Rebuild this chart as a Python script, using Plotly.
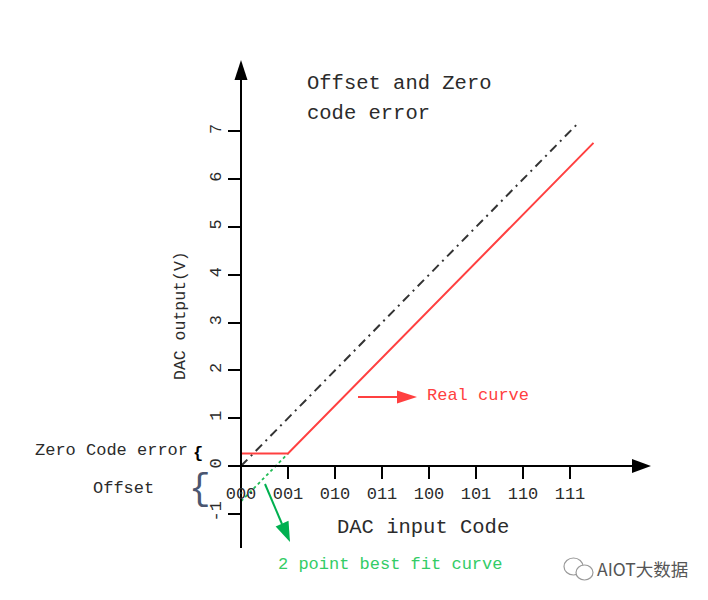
import plotly.graph_objects as go

# ---------------- data ----------------
codes = ["000", "001", "010", "011", "100", "101", "110", "111"]
code_vals = [0, 1, 2, 3, 4, 5, 6, 7]
volt_ticks = [-1, 0, 1, 2, 3, 4, 5, 6, 7]
volt_labels = ["-1", "0", "1", "2", "3", "4", "5", "6", "7"]

ideal_x = [0, 7.2]
ideal_y = [0, 7.2]
real_x = [0, 1, 7.5]
real_y = [0.26, 0.26, 6.76]
fit_x = [0, 1]
fit_y = [-0.74, 0.26]

# ---------------- layout helpers (pixel -> paper) ----------------
W, H = 708, 600
OFF = 8                # page body margin
X0, Y0 = 241, 466      # pixel position of origin
UX, UY = 47.0, 47.8    # pixels per code step / per volt


def PX(x):
    return (x - OFF) / W


def PY(y):
    return 1 - (y - OFF) / H


FONT = "Liberation Mono"
TXT = "#2b2b2b"
RED = "#ff4040"
GREEN = "#00b050"

fig = go.Figure()

fig.add_trace(go.Scatter(x=ideal_x, y=ideal_y, mode="lines",
                         line=dict(color="#333333", width=2, dash="9px,5px,2px,5px"),
                         hoverinfo="skip"))
fig.add_trace(go.Scatter(x=fit_x, y=fit_y, mode="lines",
                         line=dict(color="#22bb55", width=1.8, dash="dot"),
                         hoverinfo="skip"))
fig.add_trace(go.Scatter(x=real_x, y=real_y, mode="lines",
                         line=dict(color=RED, width=2),
                         hoverinfo="skip"))

shapes = []


def head(tx, ty, dx, dy, L, hw, color):
    n = (dx * dx + dy * dy) ** 0.5
    dx, dy = dx / n, dy / n
    bx, by = tx - L * dx, ty - L * dy
    nx, ny = -dy, dx
    pts = [(tx, ty), (bx + hw * nx, by + hw * ny), (bx - hw * nx, by - hw * ny)]
    path = "M " + " L ".join(f"{PX(a):.5f},{PY(b):.5f}" for a, b in pts) + " Z"
    shapes.append(dict(type="path", xref="paper", yref="paper", path=path,
                       fillcolor=color, line=dict(width=0), layer="above"))


def seg(x0, y0, x1, y1, color, width):
    shapes.append(dict(type="line", xref="paper", yref="paper",
                       x0=PX(x0), y0=PY(y0), x1=PX(x1), y1=PY(y1),
                       line=dict(color=color, width=width), layer="above"))


# axis arrowheads
head(651, 466, 1, 0, 19, 7, "black")
head(241, 60, 0, -1, 20, 6.5, "black")
# red pointer
seg(358, 397, 402, 397, RED, 2)
head(417, 397, 1, 0, 20, 6.5, RED)
# green pointer
seg(265, 484, 282, 524, GREEN, 2)
head(290, 542, 25, 58, 20, 7, GREEN)
# wechat-like icon
shapes.append(dict(type="circle", xref="paper", yref="paper",
                   x0=PX(564), x1=PX(583), y0=PY(575), y1=PY(558),
                   line=dict(color="#9a9a9a", width=1.2)))
shapes.append(dict(type="circle", xref="paper", yref="paper",
                   x0=PX(576), x1=PX(593), y0=PY(580), y1=PY(565),
                   line=dict(color="#9a9a9a", width=1.2), fillcolor="white"))

ann = []


def text(t, x, y, size, color=TXT, xanchor="center", angle=0, family=FONT):
    if xanchor == "left":
        x -= 2
    ann.append(dict(text=t, x=PX(x), y=PY(y), xref="paper", yref="paper",
                    xanchor=xanchor, yanchor="middle", showarrow=False,
                    textangle=angle, font=dict(family=family, size=size, color=color)))


text("Offset and Zero", 307, 83, 20.5, xanchor="left")
text("code error", 307, 113, 20.5, xanchor="left")
text("DAC output(V)", 180, 316, 16.5, angle=-90)
text("DAC input Code", 423, 527, 20.5)
text("Real curve", 427, 396, 17, color=RED, xanchor="left")
text("2 point best fit curve", 278, 564, 17, color="#33cc66", xanchor="left")
text("Zero Code error", 35, 450, 17, xanchor="left")
text("<b>{</b>", 198, 453, 17, color="black")
text("Offset", 93, 488, 17, xanchor="left")
text("{", 200, 489, 36, color="#4a5670")
text("AIOT大数据", 597, 568, 17.5, color="#555555", xanchor="left", family="Noto Sans CJK SC")

fig.update_layout(
    width=W, height=H,
    margin=dict(l=0, r=0, t=0, b=0, autoexpand=False),
    paper_bgcolor="white", plot_bgcolor="white",
    showlegend=False,
    shapes=shapes, annotations=ann,
    xaxis=dict(domain=[PX(X0), PX(645)], range=[0, (645 - X0) / UX],
               anchor="free", position=PY(Y0), automargin=False,
               showline=True, linecolor="black", linewidth=2,
               ticks="outside", ticklen=12, tickwidth=2, tickcolor="black",
               tickvals=code_vals, ticktext=codes,
               tickfont=dict(family=FONT, size=17, color=TXT),
               showgrid=False, zeroline=False),
    yaxis=dict(domain=[PY(548), PY(68)], range=[(Y0 - 548) / UY, (Y0 - 68) / UY],
               anchor="free", position=PX(X0), automargin=False,
               showline=True, linecolor="black", linewidth=2,
               ticks="outside", ticklen=12, tickwidth=2, tickcolor="black",
               tickvals=volt_ticks, ticktext=volt_labels, tickangle=-90,
               tickfont=dict(family=FONT, size=17, color=TXT),
               showgrid=False, zeroline=False),
)

fig.write_html("out.html")
